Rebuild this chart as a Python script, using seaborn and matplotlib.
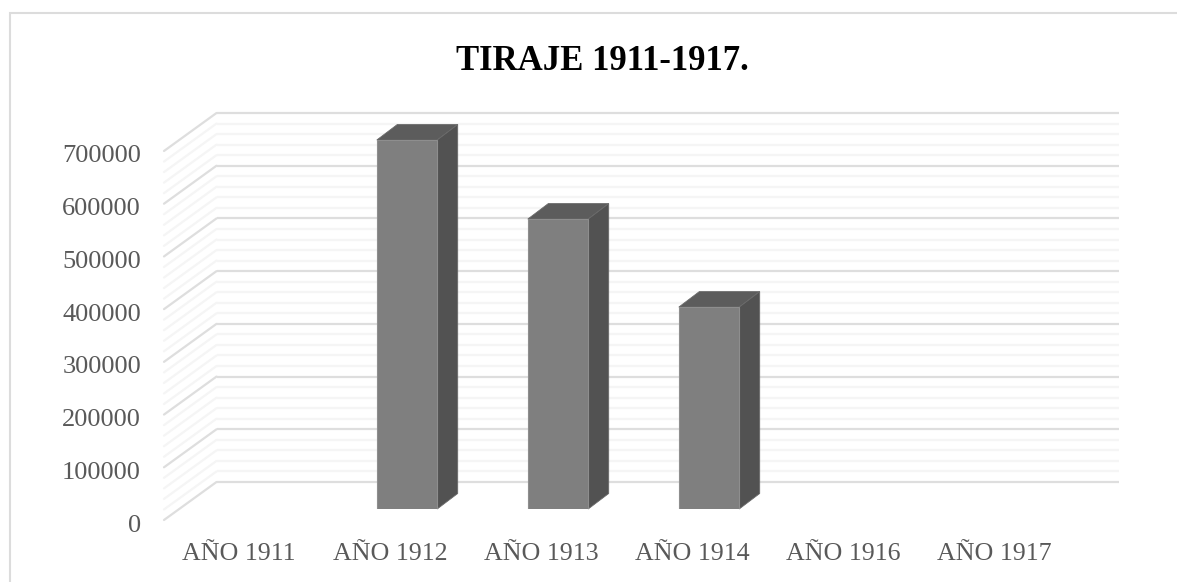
import matplotlib
matplotlib.use('Agg')
import matplotlib.pyplot as plt
import matplotlib.transforms as mtrans
from matplotlib.patches import Polygon, Rectangle
import pandas as pd
import seaborn as sns

# Data
years = ['AÑO 1911', 'AÑO 1912', 'AÑO 1913', 'AÑO 1914', 'AÑO 1916', 'AÑO 1917']
tiraje = [0, 700000, 550000, 383000, 0, 0]
major_ticks = [0, 100000, 200000, 300000, 400000, 500000, 600000, 700000]
minor_ticks = [v * 20000 for v in range(36) if v % 5 != 0]
title = 'TIRAJE 1911-1917.'

W, H = 1177, 582

sns.set_theme(style='white')
plt.rcParams['font.family'] = ['Liberation Serif', 'DejaVu Sans']

fig = plt.figure(figsize=(W / 100, H / 100), dpi=100)
# axes box is the plane the bar fronts stand on
left, right, bottom, top = 180.5, 1086.5, 509, 140
ax = fig.add_axes([left / W, 1 - bottom / H, (right - left) / W, (bottom - top) / H])
ax.patch.set_alpha(0)

df = pd.DataFrame({'year': years, 'tiraje': tiraje})
sns.barplot(data=df, x='year', y='tiraje', color='#7f7f7f', saturation=1, width=0.4,
            order=years, ax=ax, zorder=5, edgecolor='#8e8e8e', linewidth=0.8)
ax.set_xlim(-0.5, 5.5)
ax.set_ylim(0, 700000)
ax.set_xlabel('')
ax.set_ylabel('')
sns.despine(ax=ax, left=True, bottom=True, right=True, top=True)

# pixel offsets of the back wall and the front edge from the bar plane
back = ax.transData + mtrans.Affine2D().translate(36, 27)
front = ax.transData + mtrans.Affine2D().translate(-16.5, -11)


def wall_line(value, color, lw):
    x0, x1 = -0.5, 5.48
    ax.plot([x0, x1], [value, value], color=color, lw=lw, transform=back, zorder=1,
            solid_capstyle='butt', clip_on=False)
    # sloped side of the wall, from front edge to back wall
    p0 = front.transform((x0, value))
    p1 = back.transform((x0, value))
    ax.plot([p0[0], p1[0]], [p0[1], p1[1]], color=color, lw=lw, transform=None, zorder=1,
            clip_on=False)


for v in minor_ticks:
    wall_line(v, '#f5f5f5', 1.6)
for v in major_ticks:
    wall_line(v, '#dedede', 1.6)

# depth faces of each bar, built from the seaborn bars
depth_x, depth_y = 20.5, 15.5
for bar in ax.patches:
    if bar.get_height() == 0:
        bar.set_visible(False)
        continue
    (x0, y0), (x1, y1) = ax.transData.transform(bar.get_bbox().get_points())
    top_face = [(x0, y1), (x1, y1), (x1 + depth_x, y1 + depth_y), (x0 + depth_x, y1 + depth_y)]
    side_face = [(x1, y0), (x1 + depth_x, y0 + depth_y), (x1 + depth_x, y1 + depth_y), (x1, y1)]
    ax.add_patch(Polygon(top_face, closed=True, transform=None, facecolor='#5c5c5c',
                         edgecolor='#6a6a6a', lw=0.6, zorder=4, clip_on=False))
    ax.add_patch(Polygon(side_face, closed=True, transform=None, facecolor='#525252',
                         edgecolor='#6a6a6a', lw=0.6, zorder=4, clip_on=False))

# tick labels
ax.set_yticks(major_ticks)
ax.set_yticklabels([str(v) for v in major_ticks])
ax.tick_params(axis='y', length=0, pad=0, labelsize=19, labelcolor='#595959')
ax.tick_params(axis='x', length=0, pad=0, labelsize=18.7, labelcolor='#595959')
for lab in ax.get_yticklabels():
    lab.set_transform(lab.get_transform() + mtrans.Affine2D().translate(-39.5, -14))
for lab in ax.get_xticklabels():
    lab.set_transform(lab.get_transform() + mtrans.Affine2D().translate(-17, -34))

fig.text(602 / W, 1 - 61 / H, title, ha='center', va='center', fontsize=25,
         fontweight='bold', color='black')

# chart frame
fig.add_artist(Rectangle((9.5 / W, -0.02), 1.02, 1 - 12.5 / H + 0.02, transform=fig.transFigure,
                         facecolor='none', edgecolor='#dcdcdc', lw=1.5))

fig.savefig('out.png', dpi=100, facecolor='white')
